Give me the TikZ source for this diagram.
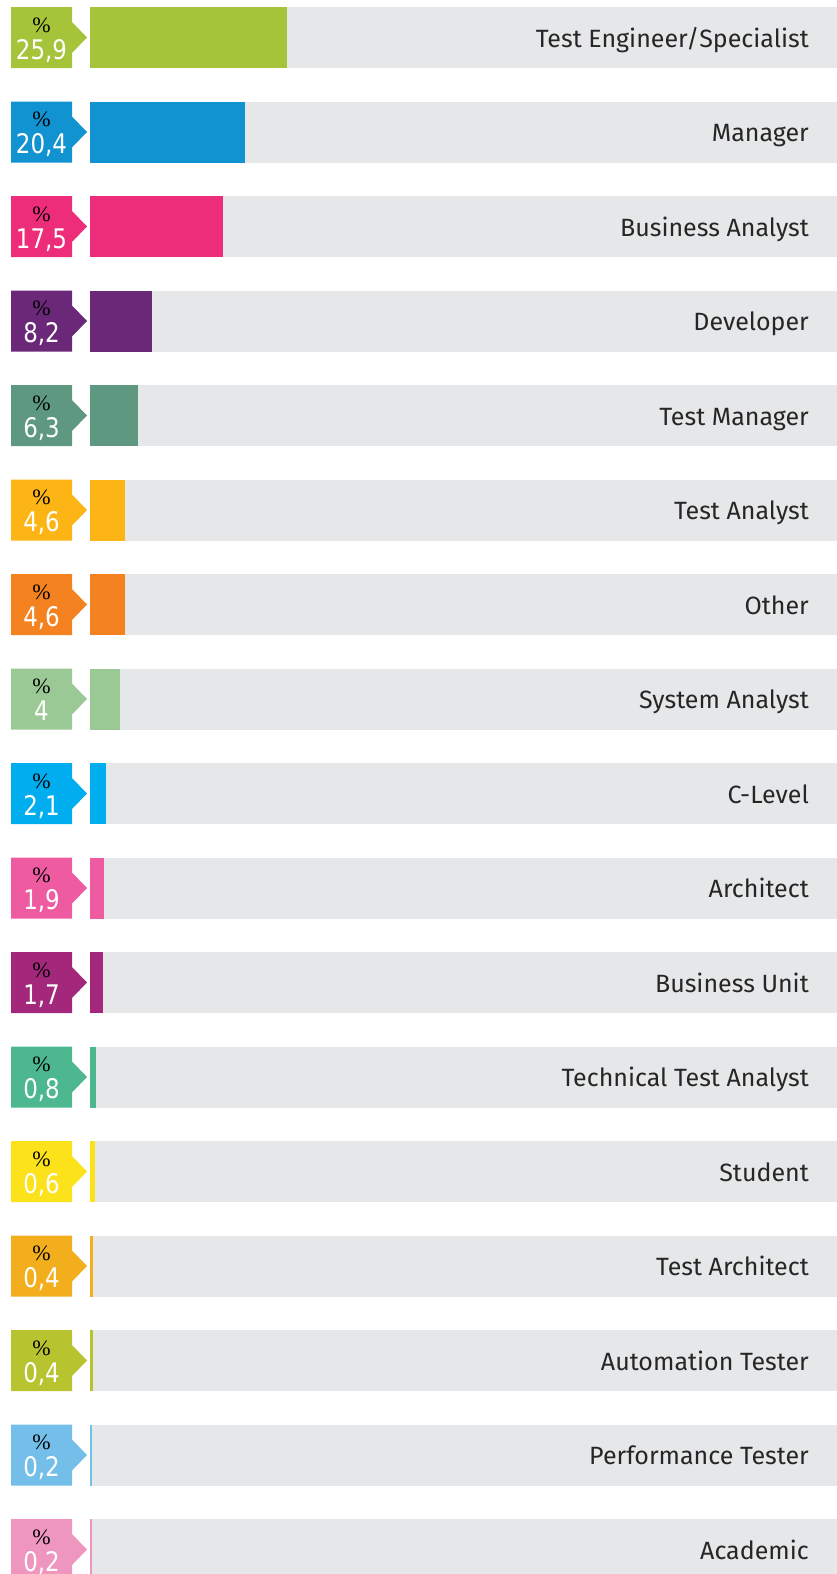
\documentclass[tikz,border=0pt]{standalone}
\usepackage{fontspec}
\setmainfont{Fira Sans}
\newfontfamily\numfont[FakeStretch=0.85]{DejaVu Sans}
\newfontfamily\pctfont{Liberation Serif}
\usepackage{tikz}

\definecolor{track}{HTML}{E6E7E8}
\definecolor{lime}{HTML}{A5C43A}
\definecolor{ocean}{HTML}{1192D1}
\definecolor{rose}{HTML}{EE2D7A}
\definecolor{plum}{HTML}{6B2879}
\definecolor{sage}{HTML}{5F9880}
\definecolor{amber}{HTML}{FDB515}
\definecolor{tangerine}{HTML}{F58220}
\definecolor{mint}{HTML}{9BC995}
\definecolor{cyan}{HTML}{00AEEF}
\definecolor{blush}{HTML}{EF5BA1}
\definecolor{berry}{HTML}{A3277A}
\definecolor{jade}{HTML}{4DB88F}
\definecolor{lemon}{HTML}{FCE21B}
\definecolor{gold}{HTML}{F2AE1C}
\definecolor{olive}{HTML}{B8C42F}
\definecolor{sky}{HTML}{74BFE9}
\definecolor{candy}{HTML}{EE95C0}

\begin{document}
\begin{tikzpicture}[x=1pt,y=-1pt,
  lbl/.style={anchor=base east,inner sep=0pt,text=black!85,font=\fontsize{25}{30}\selectfont},
  num/.style={anchor=base,inner sep=0pt,text=white,font=\numfont\fontsize{27}{31}\selectfont},
  pct/.style={inner sep=0pt,text=black,font=\pctfont\fontsize{22}{26}\selectfont}]
 \useasboundingbox (0,0) rectangle (837,1574);
 \clip (0,0) rectangle (837,1574);

 % Test Engineer/Specialist
 \fill[track] (90,7) rectangle (837,68);
 \fill[lime] (90,7) rectangle (286.8,68);
 \fill[lime] (11,7) -- (72,7) -- (72,22) -- (87,37.5) -- (72,53) -- (72,68) -- (11,68) -- cycle;
 \node[pct] (pct1) at (41.5,25) {\%};
 \node[num] (num1) at (41.5,59) {25,9};
 \node[lbl] (lbl1) at (809,47) {Test Engineer/Specialist};

 % Manager
 \fill[track] (90,101.5) rectangle (837,162.5);
 \fill[ocean] (90,101.5) rectangle (245,162.5);
 \fill[ocean] (11,101.5) -- (72,101.5) -- (72,116.5) -- (87,132) -- (72,147.5) -- (72,162.5) -- (11,162.5) -- cycle;
 \node[pct] (pct2) at (41.5,119.5) {\%};
 \node[num] (num2) at (41.5,153.5) {20,4};
 \node[lbl] (lbl2) at (809,141.5) {Manager};

 % Business Analyst
 \fill[track] (90,196) rectangle (837,257);
 \fill[rose] (90,196) rectangle (223,257);
 \fill[rose] (11,196) -- (72,196) -- (72,211) -- (87,226.5) -- (72,242) -- (72,257) -- (11,257) -- cycle;
 \node[pct] (pct3) at (41.5,214) {\%};
 \node[num] (num3) at (41.5,248) {17,5};
 \node[lbl] (lbl3) at (809,236) {Business Analyst};

 % Developer
 \fill[track] (90,290.5) rectangle (837,351.5);
 \fill[plum] (90,290.5) rectangle (152.3,351.5);
 \fill[plum] (11,290.5) -- (72,290.5) -- (72,305.5) -- (87,321) -- (72,336.5) -- (72,351.5) -- (11,351.5) -- cycle;
 \node[pct] (pct4) at (41.5,308.5) {\%};
 \node[num] (num4) at (41.5,342.5) {8,2};
 \node[lbl] (lbl4) at (809,330.5) {Developer};

 % Test Manager
 \fill[track] (90,385) rectangle (837,446);
 \fill[sage] (90,385) rectangle (137.9,446);
 \fill[sage] (11,385) -- (72,385) -- (72,400) -- (87,415.5) -- (72,431) -- (72,446) -- (11,446) -- cycle;
 \node[pct] (pct5) at (41.5,403) {\%};
 \node[num] (num5) at (41.5,437) {6,3};
 \node[lbl] (lbl5) at (809,425) {Test Manager};

 % Test Analyst
 \fill[track] (90,479.5) rectangle (837,540.5);
 \fill[amber] (90,479.5) rectangle (125,540.5);
 \fill[amber] (11,479.5) -- (72,479.5) -- (72,494.5) -- (87,510) -- (72,525.5) -- (72,540.5) -- (11,540.5) -- cycle;
 \node[pct] (pct6) at (41.5,497.5) {\%};
 \node[num] (num6) at (41.5,531.5) {4,6};
 \node[lbl] (lbl6) at (809,519.5) {Test Analyst};

 % Other
 \fill[track] (90,574) rectangle (837,635);
 \fill[tangerine] (90,574) rectangle (125,635);
 \fill[tangerine] (11,574) -- (72,574) -- (72,589) -- (87,604.5) -- (72,620) -- (72,635) -- (11,635) -- cycle;
 \node[pct] (pct7) at (41.5,592) {\%};
 \node[num] (num7) at (41.5,626) {4,6};
 \node[lbl] (lbl7) at (809,614) {Other};

 % System Analyst
 \fill[track] (90,668.5) rectangle (837,729.5);
 \fill[mint] (90,668.5) rectangle (120.4,729.5);
 \fill[mint] (11,668.5) -- (72,668.5) -- (72,683.5) -- (87,699) -- (72,714.5) -- (72,729.5) -- (11,729.5) -- cycle;
 \node[pct] (pct8) at (41.5,686.5) {\%};
 \node[num] (num8) at (41.5,720.5) {4};
 \node[lbl] (lbl8) at (809,708.5) {System Analyst};

 % C-Level
 \fill[track] (90,763) rectangle (837,824);
 \fill[cyan] (90,763) rectangle (106,824);
 \fill[cyan] (11,763) -- (72,763) -- (72,778) -- (87,793.5) -- (72,809) -- (72,824) -- (11,824) -- cycle;
 \node[pct] (pct9) at (41.5,781) {\%};
 \node[num] (num9) at (41.5,815) {2,1};
 \node[lbl] (lbl9) at (809,803) {C-Level};

 % Architect
 \fill[track] (90,857.5) rectangle (837,918.5);
 \fill[blush] (90,857.5) rectangle (104.4,918.5);
 \fill[blush] (11,857.5) -- (72,857.5) -- (72,872.5) -- (87,888) -- (72,903.5) -- (72,918.5) -- (11,918.5) -- cycle;
 \node[pct] (pct10) at (41.5,875.5) {\%};
 \node[num] (num10) at (41.5,909.5) {1,9};
 \node[lbl] (lbl10) at (809,897.5) {Architect};

 % Business Unit
 \fill[track] (90,952) rectangle (837,1013);
 \fill[berry] (90,952) rectangle (102.9,1013);
 \fill[berry] (11,952) -- (72,952) -- (72,967) -- (87,982.5) -- (72,998) -- (72,1013) -- (11,1013) -- cycle;
 \node[pct] (pct11) at (41.5,970) {\%};
 \node[num] (num11) at (41.5,1004) {1,7};
 \node[lbl] (lbl11) at (809,992) {Business Unit};

 % Technical Test Analyst
 \fill[track] (90,1046.5) rectangle (837,1107.5);
 \fill[jade] (90,1046.5) rectangle (96.1,1107.5);
 \fill[jade] (11,1046.5) -- (72,1046.5) -- (72,1061.5) -- (87,1077) -- (72,1092.5) -- (72,1107.5) -- (11,1107.5) -- cycle;
 \node[pct] (pct12) at (41.5,1064.5) {\%};
 \node[num] (num12) at (41.5,1098.5) {0,8};
 \node[lbl] (lbl12) at (809,1086.5) {Technical Test Analyst};

 % Student
 \fill[track] (90,1141) rectangle (837,1202);
 \fill[lemon] (90,1141) rectangle (94.6,1202);
 \fill[lemon] (11,1141) -- (72,1141) -- (72,1156) -- (87,1171.5) -- (72,1187) -- (72,1202) -- (11,1202) -- cycle;
 \node[pct] (pct13) at (41.5,1159) {\%};
 \node[num] (num13) at (41.5,1193) {0,6};
 \node[lbl] (lbl13) at (809,1181) {Student};

 % Test Architect
 \fill[track] (90,1235.5) rectangle (837,1296.5);
 \fill[gold] (90,1235.5) rectangle (93,1296.5);
 \fill[gold] (11,1235.5) -- (72,1235.5) -- (72,1250.5) -- (87,1266) -- (72,1281.5) -- (72,1296.5) -- (11,1296.5) -- cycle;
 \node[pct] (pct14) at (41.5,1253.5) {\%};
 \node[num] (num14) at (41.5,1287.5) {0,4};
 \node[lbl] (lbl14) at (809,1275.5) {Test Architect};

 % Automation Tester
 \fill[track] (90,1330) rectangle (837,1391);
 \fill[olive] (90,1330) rectangle (93,1391);
 \fill[olive] (11,1330) -- (72,1330) -- (72,1345) -- (87,1360.5) -- (72,1376) -- (72,1391) -- (11,1391) -- cycle;
 \node[pct] (pct15) at (41.5,1348) {\%};
 \node[num] (num15) at (41.5,1382) {0,4};
 \node[lbl] (lbl15) at (809,1370) {Automation Tester};

 % Performance Tester
 \fill[track] (90,1424.5) rectangle (837,1485.5);
 \fill[sky] (90,1424.5) rectangle (91.8,1485.5);
 \fill[sky] (11,1424.5) -- (72,1424.5) -- (72,1439.5) -- (87,1455) -- (72,1470.5) -- (72,1485.5) -- (11,1485.5) -- cycle;
 \node[pct] (pct16) at (41.5,1442.5) {\%};
 \node[num] (num16) at (41.5,1476.5) {0,2};
 \node[lbl] (lbl16) at (809,1464.5) {Performance Tester};

 % Academic
 \fill[track] (90,1519) rectangle (837,1580);
 \fill[candy] (90,1519) rectangle (91.8,1580);
 \fill[candy] (11,1519) -- (72,1519) -- (72,1534) -- (87,1549.5) -- (72,1565) -- (72,1580) -- (11,1580) -- cycle;
 \node[pct] (pct17) at (41.5,1537) {\%};
 \node[num] (num17) at (41.5,1571) {0,2};
 \node[lbl] (lbl17) at (809,1559) {Academic};
\end{tikzpicture}
\end{document}
